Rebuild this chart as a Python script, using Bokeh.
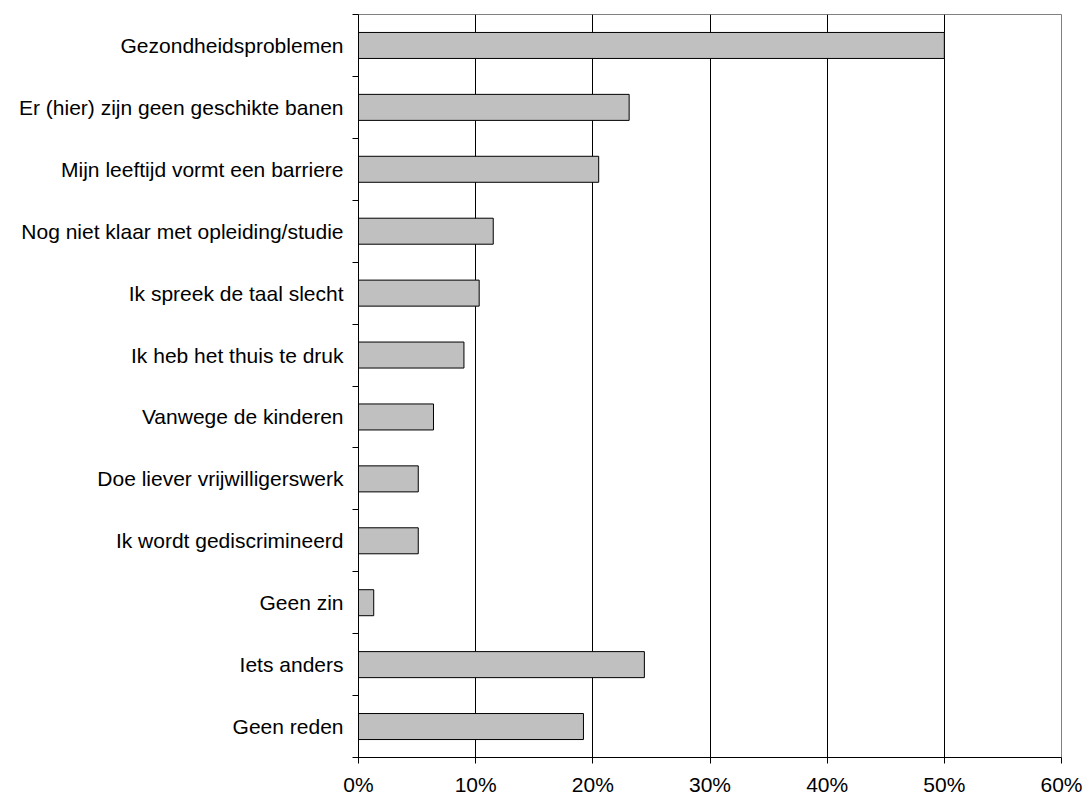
from bokeh.plotting import figure
from bokeh.models import FixedTicker, PrintfTickFormatter, Range1d
from bokeh.embed import file_html
from bokeh.resources import INLINE

categories = [
    "Gezondheidsproblemen",
    "Er (hier) zijn geen geschikte banen",
    "Mijn leeftijd vormt een barriere",
    "Nog niet klaar met opleiding/studie",
    "Ik spreek de taal slecht",
    "Ik heb het thuis te druk",
    "Vanwege de kinderen",
    "Doe liever vrijwilligerswerk",
    "Ik wordt gediscrimineerd",
    "Geen zin",
    "Iets anders",
    "Geen reden",
]
values = [50.0, 23.1, 20.5, 11.5, 10.3, 9.0, 6.4, 5.1, 5.1, 1.3, 24.4, 19.2]
x_ticks = [0, 10, 20, 30, 40, 50, 60]

n = len(categories)
centers = [n - 0.5 - i for i in range(n)]
bounds = list(range(n + 1))

p = figure(
    frame_width=703, frame_height=743,
    min_border_left=358, min_border_right=23, min_border_top=14, min_border_bottom=39,
    x_range=Range1d(0, 60), y_range=Range1d(0, n),
    output_backend="svg", toolbar_location=None,
)
p.background_fill_color = "white"
p.border_fill_color = "white"
p.outline_line_color = "#808080"
p.outline_line_width = 1

p.hbar(y=centers, right=values, left=0, height=0.42,
       fill_color="#C0C0C0", line_color="black", line_width=1)

font = "Liberation Sans"
# x axis
p.xaxis.ticker = FixedTicker(ticks=x_ticks)
p.xaxis.formatter = PrintfTickFormatter(format="%d%%")
p.xaxis.major_tick_out = 6
p.xaxis.major_tick_in = 0
p.xaxis.minor_tick_out = 0
p.xaxis.minor_tick_in = 0
p.xaxis.major_label_standoff = 9
p.xaxis.major_label_text_font = font
p.xaxis.major_label_text_font_size = "21px"
p.xaxis.major_label_text_color = "black"
p.xaxis.axis_line_color = "black"
p.xaxis.major_tick_line_color = "black"

# y axis
p.yaxis.ticker = FixedTicker(ticks=centers, minor_ticks=bounds)
p.yaxis.major_label_overrides = {c: lab for c, lab in zip(centers, categories)}
p.yaxis.major_tick_out = 0
p.yaxis.major_tick_in = 0
p.yaxis.minor_tick_out = 6
p.yaxis.minor_tick_in = 0
p.yaxis.minor_tick_line_color = "black"
p.yaxis.major_label_standoff = 9
p.yaxis.major_label_text_font = font
p.yaxis.major_label_text_font_size = "21px"
p.yaxis.major_label_text_color = "black"
p.yaxis.axis_line_color = "black"

p.xgrid.ticker = FixedTicker(ticks=x_ticks)
p.xgrid.grid_line_color = "black"
p.xgrid.grid_line_width = 1
p.ygrid.grid_line_color = None

open("out.html", "w").write(file_html(p, INLINE))
